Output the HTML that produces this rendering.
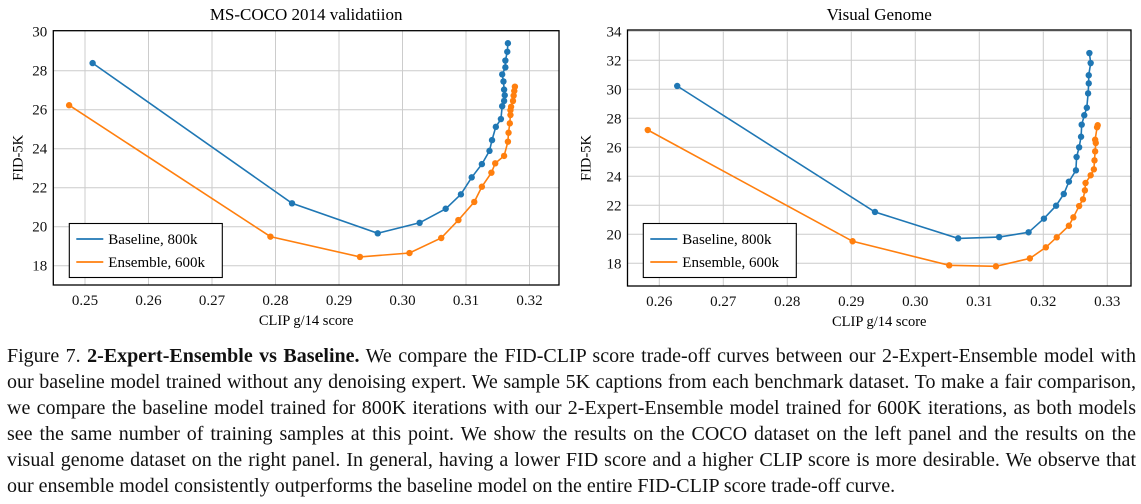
<!DOCTYPE html>
<html><head><meta charset="utf-8"><style>
body{margin:0;background:#fff;width:1141px;height:504px;overflow:hidden;position:relative;font-family:"Liberation Serif",serif;}
svg{position:absolute;left:0;top:0}
.cap{position:absolute;left:7px;width:1129px;font-size:20px;line-height:26px;text-align:justify;text-align-last:justify;white-space:nowrap;color:#111}
</style></head><body>
<svg id="chart" width="1141" height="330"></svg>
<div class="cap" style="top:343px">Figure 7. <b>2-Expert-Ensemble vs Baseline.</b> We compare the FID-CLIP score trade-off curves between our 2-Expert-Ensemble model with</div>
<div class="cap" style="top:369px">our baseline model trained without any denoising expert. We sample 5K captions from each benchmark dataset. To make a fair comparison,</div>
<div class="cap" style="top:395px">we compare the baseline model trained for 800K iterations with our 2-Expert-Ensemble model trained for 600K iterations, as both models</div>
<div class="cap" style="top:421px">see the same number of training samples at this point. We show the results on the COCO dataset on the left panel and the results on the</div>
<div class="cap" style="top:447px">visual genome dataset on the right panel. In general, having a lower FID score and a higher CLIP score is more desirable. We observe that</div>
<div class="cap" style="top:473px;text-align-last:left">our ensemble model consistently outperforms the baseline model on the entire FID-CLIP score trade-off curve.</div>
<script>
const cocoBaseX=[0.2512,0.2826,0.2961,0.3027,0.3068,0.3092,0.3109,0.3125,0.3137,0.3141,0.3147,0.3155,0.3157,0.3160,0.3161,0.3160,0.3159,0.3157,0.3162,0.3162,0.3165,0.3166];
const cocoBaseY=[28.39,21.2,19.66,20.2,20.92,21.66,22.53,23.21,23.89,24.44,25.12,25.52,26.18,26.45,26.74,27.03,27.45,27.81,28.17,28.52,28.97,29.41];
const cocoEnsX=[0.2475,0.2792,0.2933,0.3011,0.3061,0.3088,0.3113,0.3125,0.3140,0.3146,0.3160,0.3166,0.3167,0.3169,0.3170,0.3170,0.3171,0.3174,0.3175,0.3176,0.3177];
const cocoEnsY=[26.23,19.49,18.45,18.65,19.42,20.34,21.27,22.05,22.77,23.25,23.63,24.36,24.82,25.30,25.73,25.98,26.15,26.45,26.72,26.96,27.18];
const vgBaseX=[0.2628,0.2937,0.3067,0.3131,0.3177,0.3201,0.3220,0.3232,0.3240,0.3251,0.3252,0.3256,0.3259,0.3260,0.3264,0.3268,0.3270,0.3271,0.3271,0.3274,0.3272];
const vgBaseY=[30.23,21.54,19.72,19.81,20.14,21.08,21.97,22.78,23.63,24.41,25.33,26.0,26.73,27.56,28.21,28.73,29.72,30.41,30.97,31.81,32.5];
const vgEnsX=[0.2582,0.2902,0.3053,0.3126,0.3179,0.3204,0.3221,0.3240,0.3247,0.3256,0.3262,0.3265,0.3266,0.3274,0.3279,0.3280,0.3281,0.3282,0.3281,0.3284,0.3285];
const vgEnsY=[27.19,19.52,17.86,17.79,18.34,19.1,19.79,20.59,21.17,21.95,22.41,23.03,23.54,24.07,24.48,25.1,25.72,26.3,26.52,27.38,27.52];
const cocoXTicks=[0.25,0.26,0.27,0.28,0.29,0.30,0.31,0.32];
const cocoYTicks=[18,20,22,24,26,28,30];
const vgXTicks=[0.26,0.27,0.28,0.29,0.30,0.31,0.32,0.33];
const vgYTicks=[18,20,22,24,26,28,30,32,34];

const NS="http://www.w3.org/2000/svg";
const svg=document.getElementById('chart');
function mk(tag,attrs,parent,text){const e=document.createElementNS(NS,tag);for(const k in attrs)e.setAttribute(k,attrs[k]);if(text!==undefined)e.textContent=text;(parent||svg).appendChild(e);return e;}

function panel(p){
  const g=mk('g',{});
  
  
  const sx=v=>p.x0+(v-p.xa)*(p.x1-p.x0)/(p.xb-p.xa);
  const sy=v=>p.y1-(v-p.ya)*(p.y1-p.y0)/(p.yb-p.ya);
  p.xt.forEach(t=>{const x=sx(t);
    const l=mk('line',{x1:x,x2:x,y1:p.y0,y2:p.y1,stroke:'#cccccc','stroke-width':1},g);
    
    
    const tx=mk('text',{x:x,y:p.y1+20,'font-size':15,'text-anchor':'middle',fill:'#111'},g,t.toFixed(2));
    
    });
  p.yt.forEach(t=>{const y=sy(t);
    if(y>p.y0+1&&y<p.y1){const l=mk('line',{x1:p.x0,x2:p.x1,y1:y,y2:y,stroke:'#cccccc','stroke-width':1},g);
    
    }
    const tx=mk('text',{x:p.x0-6,y:y+5,'font-size':15,'text-anchor':'end',fill:'#111'},g,String(t));
    
    });
  const series=[[p.bx,p.by,'#1f77b4','baseline-series'],[p.ex,p.ey,'#ff7f0e','ensemble-series']];
  series.forEach(s=>{
    const pts=s[0].map((v,i)=>sx(v).toFixed(1)+','+sy(s[1][i]).toFixed(1)).join(' ');
    const pl=mk('polyline',{points:pts,fill:'none',stroke:s[2],'stroke-width':1.6},g);
    
    
    s[0].forEach((v,i)=>{const c=mk('circle',{cx:sx(v),cy:sy(s[1][i]),r:3.2,fill:s[2]},g);
      
      });
  });
  const fr=mk('rect',{x:p.x0,y:p.y0,width:p.x1-p.x0,height:p.y1-p.y0,fill:'none',stroke:'#000','stroke-width':1.3},g);
  
  
  const tt=mk('text',{x:(p.x0+p.x1)/2,y:20,'font-size':17,'text-anchor':'middle',fill:'#000'},g,p.title);
  
  
  const xl=mk('text',{x:(p.x0+p.x1)/2,y:p.y1+40,'font-size':14.5,'text-anchor':'middle',fill:'#000'},g,'CLIP g/14 score');
  
  
  const cy=(p.y0+p.y1)/2, cx=p.x0-p.ylx;
  const yl=mk('text',{x:cx,y:cy,'font-size':14.5,'text-anchor':'middle',fill:'#000',transform:`rotate(-90 ${cx} ${cy})`},g,'FID-5K');
  
  
  const lg=mk('g',{},g);
  
  
  mk('rect',{x:p.lx,y:223.5,width:153,height:54,fill:'#fff',stroke:'#000','stroke-width':1.1},lg);
  [['Baseline, 800k','#1f77b4',239],['Ensemble, 600k','#ff7f0e',262]].forEach(e=>{
    const le=mk('g',{},lg);
    
    
    mk('line',{x1:p.lx+7,x2:p.lx+34,y1:e[2],y2:e[2],stroke:e[1],'stroke-width':1.8},le);
    mk('text',{x:p.lx+39,y:e[2]+5,'font-size':15,fill:'#000'},le,e[0]);
  });
}
panel({name:'coco-chart',title:'MS-COCO 2014 validatiion',x0:53.3,x1:559,y0:30.7,y1:285,xa:0.25+(53.3-85)/6350,xb:0.25+(559-85)/6350,ya:28-(285-70.7)/19.5,yb:28+(70.7-30.7)/19.5,xt:cocoXTicks,yt:cocoYTicks,bx:cocoBaseX,by:cocoBaseY,ex:cocoEnsX,ey:cocoEnsY,lx:69.3,ylx:31});
panel({name:'visual-genome-chart',title:'Visual Genome',x0:627.5,x1:1131,y0:30,y1:286,xa:0.26+(627.5-659.3)/6400,xb:0.26+(1131-659.3)/6400,ya:34-(286-31.3)/14.5,yb:34-(30-31.3)/14.5,xt:vgXTicks,yt:vgYTicks,bx:vgBaseX,by:vgBaseY,ex:vgEnsX,ey:vgEnsY,lx:643.3,ylx:37});
</script>
</body></html>
